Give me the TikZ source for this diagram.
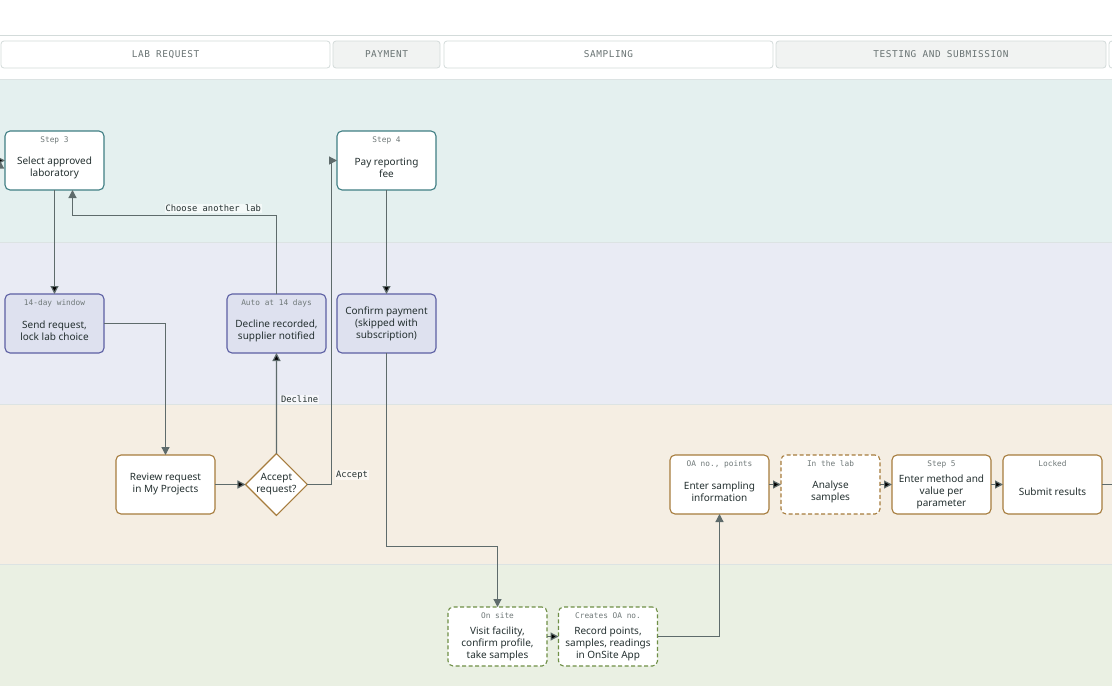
\documentclass[tikz,border=0pt]{standalone}
\usepackage{fontspec}
\setmainfont{Noto Sans}
\newfontfamily\monofont{DejaVu Sans Mono}
\newfontfamily\headfont[LetterSpace=6]{DejaVu Sans Mono}
\usetikzlibrary{arrows.meta,positioning,shapes.geometric}

\definecolor{laneA}{HTML}{E4F0EF}
\definecolor{laneB}{HTML}{E9EBF4}
\definecolor{laneC}{HTML}{F5EEE3}
\definecolor{laneD}{HTML}{EAF0E3}
\definecolor{laneline}{HTML}{DCE3E3}
\definecolor{hdline}{HTML}{D3DBDA}
\definecolor{hdfill}{HTML}{F1F3F2}
\definecolor{hdtext}{HTML}{6A7474}
\definecolor{ink}{HTML}{243030}
\definecolor{tagc}{HTML}{707979}
\definecolor{wire}{HTML}{5E6B6B}
\definecolor{tealc}{HTML}{3F7E83}
\definecolor{navyc}{HTML}{5C5FA3}
\definecolor{navyf}{HTML}{DEE1EF}
\definecolor{brownc}{HTML}{A67C3D}
\definecolor{greenc}{HTML}{6F8F46}

\newcommand\tagpad{\rule{0pt}{21.5pt}}

\tikzset{
  box/.style={rectangle, rounded corners=5pt, line width=1.1pt, fill=white,
    minimum width=99pt, minimum height=59pt, inner sep=2pt, outer sep=0pt,
    align=center, font=\fontsize{10}{12}\selectfont, text=ink},
  labbox/.style={box, draw=tealc},
  holdbox/.style={box, draw=navyc, fill=navyf},
  supbox/.style={box, draw=brownc},
  labwork/.style={box, draw=brownc, dash pattern=on 4pt off 2.5pt},
  sitebox/.style={box, draw=greenc, dash pattern=on 4pt off 2.5pt},
  tag/.style={label={[tagtext]north:#1}},
  tagtext/.style={anchor=base, yshift=-11.5pt, inner sep=0pt,
    font=\monofont\fontsize{7.8}{9}\selectfont, text=tagc},
  choice/.style={diamond, draw=brownc, line width=1.1pt, fill=white,
    minimum width=60pt, minimum height=60pt, inner sep=0pt, outer sep=0pt,
    align=center, font=\fontsize{10}{12}\selectfont, text=ink},
  phase/.style={rectangle, rounded corners=3pt, draw=hdline, line width=0.8pt,
    minimum height=27pt, font=\headfont\fontsize{9.4}{11}\selectfont, text=hdtext},
  flow/.style={draw=wire, line width=1.2pt},
  flowlabel/.style={font=\monofont\fontsize{8.8}{10}\selectfont, text=ink,
    inner sep=1pt, fill=white, fill opacity=.6, text opacity=1}
}

\begin{document}
\begin{tikzpicture}[x=1pt,y=-1pt,>={Triangle[length=8pt,width=8pt]},node distance=12pt]
\useasboundingbox (0,0) rectangle (1112,686);
\clip (0,0) rectangle (1112,686);

% lanes
\fill[white] (0,0) rectangle (1112,79);
\fill[laneA] (0,79) rectangle (1112,242);
\fill[laneB] (0,242) rectangle (1112,404);
\fill[laneC] (0,404) rectangle (1112,564);
\fill[laneD] (0,564) rectangle (1112,686);
\foreach \y in {79,242,404,564}
  \draw[laneline, line width=0.6pt] (0,\y) -- (1112,\y);
\draw[hdline, line width=0.8pt] (0,35) -- (1112,35);

% phase headers
\node[phase, fill=white, minimum width=329pt] (hdlab) at (165.5,54.5) {LAB REQUEST};
\node[phase, fill=hdfill, minimum width=107pt] (hdpay) at (386.5,54.5) {PAYMENT};
\node[phase, fill=white, minimum width=329pt] (hdsamp) at (608.5,54.5) {SAMPLING};
\node[phase, fill=hdfill, minimum width=330pt] (hdtest) at (941,54.5) {TESTING AND SUBMISSION};
\node[phase, fill=white, minimum width=200pt] (hdnext) at (1209,54.5) {};

% steps
\node[labbox, tag={Step 3}] (step3) at (54.5,160.5) {\tagpad Select approved\\laboratory};
\node[labbox, tag={Step 4}] (step4) at (386.5,160.5) {\tagpad Pay reporting\\fee};
\node[holdbox, tag={14-day window}] [below=104pt of step3] (send) {\tagpad Send request,\\lock lab choice};
\node[holdbox, tag={Auto at 14 days}] (decline) at (276.5,323.5) {\tagpad Decline recorded,\\supplier notified};
\node[holdbox] [below=104pt of step4] (confirm) {Confirm payment\\(skipped with\\subscription)};
\node[supbox] (review) at (165.5,484.5) {Review request\\in My Projects};
\node[choice] [right=30.5pt of review] (accept) {Accept\\request?};
\node[supbox, tag={OA no., points}] (enter) at (719.5,484.5) {\tagpad Enter sampling\\information};
\node[labwork, tag={In the lab}] [right=of enter] (analyse) {\tagpad Analyse\\samples};
\node[supbox, tag={Step 5}] [right=of analyse] (method) {\tagpad Enter method and\\value per\\parameter};
\node[supbox, tag={Locked}] [right=of method] (submit) {\tagpad Submit results};
\node[sitebox, tag={On site}] (visit) at (497.5,636.5) {\tagpad Visit facility,\\confirm profile,\\take samples};
\node[sitebox, tag={Creates OA no.}] [right=11.5pt of visit] (record) {\tagpad Record points,\\samples, readings\\in OnSite App};

\coordinate (inlab) at (0,160.5);
\coordinate (back) at (72.5,215.5);
\coordinate (acc) at (331.5,484.5);
\coordinate (outr) at (1112,484.5);

% connectors
\path[flow,->]
  (inlab) edge (step3)
  (step3) edge (send)
  (review) edge (accept)
  (accept) edge node[flowlabel, right=3pt, pos=0.54] {Decline} (decline)
  (step4) edge (confirm)
  (visit) edge (record)
  (enter) edge (analyse)
  (analyse) edge (method)
  (method) edge (submit);
\draw[flow,->] (send.east) -| (review.north);
\draw[flow,->] (decline.north) |- node[flowlabel, above=2pt, pos=0.655] {Choose another lab} (back) -- (back |- step3.south);
\draw[flow,->] (accept.east) -- (acc) node[flowlabel, anchor=south west, xshift=3pt, yshift=4pt] {Accept} |- (step4.west);
\draw[flow,->] (confirm.south) -- ++(0,193.5) -| (visit.north);
\draw[flow,->] (record.east) -| (enter.south);
\draw[flow] (submit.east) -- (outr);
\end{tikzpicture}
\end{document}
